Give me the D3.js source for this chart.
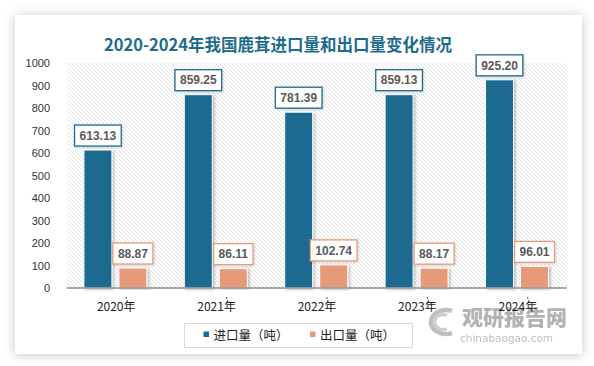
<!DOCTYPE html>
<html><head><meta charset="utf-8">
<script src="https://cdn.jsdelivr.net/npm/d3@7"></script>
<style>
html,body{margin:0;padding:0;background:#fff;}
svg{display:block;}
</style></head>
<body>
<svg id="chart" width="594" height="366"></svg>
<script>
const title = "2020-2024年我国鹿茸进口量和出口量变化情况";
const years = ["2020年","2021年","2022年","2023年","2024年"];
const importValues = [613.13, 859.25, 781.39, 859.13, 925.20];
const exportValues = [88.87, 86.11, 102.74, 88.17, 96.01];
const seriesNames = ["进口量（吨）","出口量（吨）"];
const seriesColors = ["#1c6b8f","#e79a7a"];
const yTicks = [0,100,200,300,400,500,600,700,800,900,1000];

const svg = d3.select("#chart");
const defs = svg.append("defs");

const cf = defs.append("filter").attr("id","cardShadow").attr("x","-10%").attr("y","-10%").attr("width","120%").attr("height","120%");
cf.append("feDropShadow").attr("dx",0).attr("dy",1).attr("stdDeviation",6).attr("flood-color","#000").attr("flood-opacity",0.22);
const bf = defs.append("filter").attr("id","barShadow").attr("x","-30%").attr("y","-10%").attr("width","160%").attr("height","120%");
bf.append("feDropShadow").attr("dx",1.5).attr("dy",1).attr("stdDeviation",1.5).attr("flood-color","#000").attr("flood-opacity",0.28);
const lf = defs.append("filter").attr("id","boxShadow").attr("x","-20%").attr("y","-30%").attr("width","140%").attr("height","160%");
lf.append("feDropShadow").attr("dx",1).attr("dy",1).attr("stdDeviation",1).attr("flood-color","#000").attr("flood-opacity",0.15);
const pat = defs.append("pattern").attr("id","hatch").attr("patternUnits","userSpaceOnUse").attr("width",4).attr("height",4);
pat.append("rect").attr("width",4).attr("height",4).attr("fill","#fff");
pat.append("path").attr("d","M-1,-1 L5,5 M-1,3 L1,5 M3,-1 L5,1").attr("stroke","#dadada").attr("stroke-width",0.8);

svg.append("rect").attr("x",15).attr("y",15).attr("width",567).attr("height",339)
  .attr("fill","#fff").attr("filter","url(#cardShadow)");

svg.append("text").attr("x",278).attr("y",51).attr("text-anchor","middle")
  .attr("font-family","'Noto Sans CJK SC', sans-serif").attr("font-weight","bold")
  .attr("font-size",16.5).attr("fill","#1f6b8c").text(title);

const plotL = 66.7, plotR = 566.7, plotT = 63, plotB = 288;
const y = d3.scaleLinear().domain([0,1000]).range([plotB, plotT]);
const x = d3.scaleBand().domain(years).range([66, 568]).padding(0);
const xs = d3.scaleBand().domain([0,1]).range([0,63]).paddingInner(0.2).paddingOuter(0);

svg.append("rect").attr("x",plotL).attr("y",plotT).attr("width",plotR-plotL).attr("height",plotB-plotT)
  .attr("fill","url(#hatch)");

const yAxis = d3.axisLeft(y).tickValues(yTicks).tickSize(0).tickPadding(0).tickFormat(d3.format("d"));
const ya = svg.append("g").attr("transform","translate(50,0)").call(yAxis);
ya.select(".domain").remove();
ya.selectAll("text").attr("font-family","'Liberation Sans', Arial, sans-serif").attr("font-size",11).attr("fill","#333").attr("dy","0.35em");

// watermark
const wm = svg.append("g").attr("opacity",0.75);
wm.append("path").attr("d","M452,311 A15,12 0 1 0 452,333").attr("fill","none").attr("stroke","#aaa").attr("stroke-width",4.5);
wm.append("path").attr("d","M447,315 A9,7.5 0 1 0 447,329").attr("fill","none").attr("stroke","#bbb").attr("stroke-width",3);
wm.append("text").attr("x",462).attr("y",325).attr("font-family","'Noto Sans CJK SC', sans-serif").attr("font-weight","900")
  .attr("font-size",21).attr("fill","#999").text("观研报告网");
wm.append("text").attr("x",460).attr("y",342).attr("font-family","'DejaVu Sans', sans-serif")
  .attr("font-size",10.5).attr("fill","#aaa").text("chinabaogao.com");

const data = years.map((yr,i)=>({yr, vals:[importValues[i], exportValues[i]]}));
const groups = svg.append("g").selectAll("g").data(data).join("g")
  .attr("transform", d => `translate(${x(d.yr) + (x.bandwidth()-63)/2 - 0.8},0)`);

groups.selectAll("rect").data(d => d.vals.map((v,k)=>({v,k}))).join("rect")
  .attr("x", d => xs(d.k)).attr("width", xs.bandwidth())
  .attr("y", d => y(d.v)).attr("height", d => plotB - y(d.v))
  .attr("fill", d => seriesColors[d.k]).attr("stroke","#fff").attr("stroke-width",1)
  .attr("filter","url(#barShadow)");

svg.append("line").attr("x1",plotL).attr("x2",plotR).attr("y1",plotB).attr("y2",plotB)
  .attr("stroke","#8c8c8c").attr("stroke-width",1.5);

svg.append("g").selectAll("line").data(years).join("line")
  .attr("x1", d => x(d)+x.bandwidth()/2+10).attr("x2", d => x(d)+x.bandwidth()/2+10)
  .attr("y1",297).attr("y2",299).attr("stroke","#555").attr("stroke-width",1);

const xAxis = d3.axisBottom(x).tickSize(0).tickPadding(0);
const xa = svg.append("g").attr("transform","translate(0,311)").call(xAxis);
xa.select(".domain").remove();
xa.selectAll("text").attr("font-family","'Noto Sans CJK SC', sans-serif").attr("font-size",12).attr("fill","#222").attr("dy",0);

const fmt = d3.format(".2f");
groups.each(function(d){
  const g = d3.select(this);
  d.vals.forEach((v,k)=>{
    const cx = xs(k) + xs.bandwidth()/2;
    const lg = g.append("g");
    const rect = lg.append("rect");
    const t = lg.append("text").attr("x",cx).attr("text-anchor","middle")
      .attr("font-family","'Liberation Sans', Arial, sans-serif").attr("font-weight","bold")
      .attr("font-size",12).attr("fill","#595959").text(fmt(v));
    const w = t.node().getComputedTextLength() + 10;
    const bottom = y(v) - 4, h = 21;
    rect.attr("x",cx - w/2).attr("y",bottom - h).attr("width",w).attr("height",h)
      .attr("fill","#fff").attr("stroke",seriesColors[k]).attr("stroke-width",1.3)
      .attr("filter","url(#boxShadow)");
    t.attr("y", bottom - h/2 + 4.3);
  });
});

svg.append("rect").attr("x",184.5).attr("y",323.5).attr("width",228).attr("height",24)
  .attr("fill","#fff").attr("stroke","#d9d9d9").attr("stroke-width",1);
const legX = [203.5, 310];
const lg = svg.append("g").selectAll("g").data(seriesNames).join("g")
  .attr("transform",(d,i)=>`translate(${legX[i]},0)`);
lg.append("rect").attr("x",0).attr("y",331.5).attr("width",5.5).attr("height",5.5).attr("fill",(d,i)=>seriesColors[i]);
lg.append("text").attr("x",10).attr("y",339.5).attr("font-family","'Noto Sans CJK SC', sans-serif")
  .attr("font-size",12.5).attr("fill","#222").text(d=>d);
</script>
</body></html>
